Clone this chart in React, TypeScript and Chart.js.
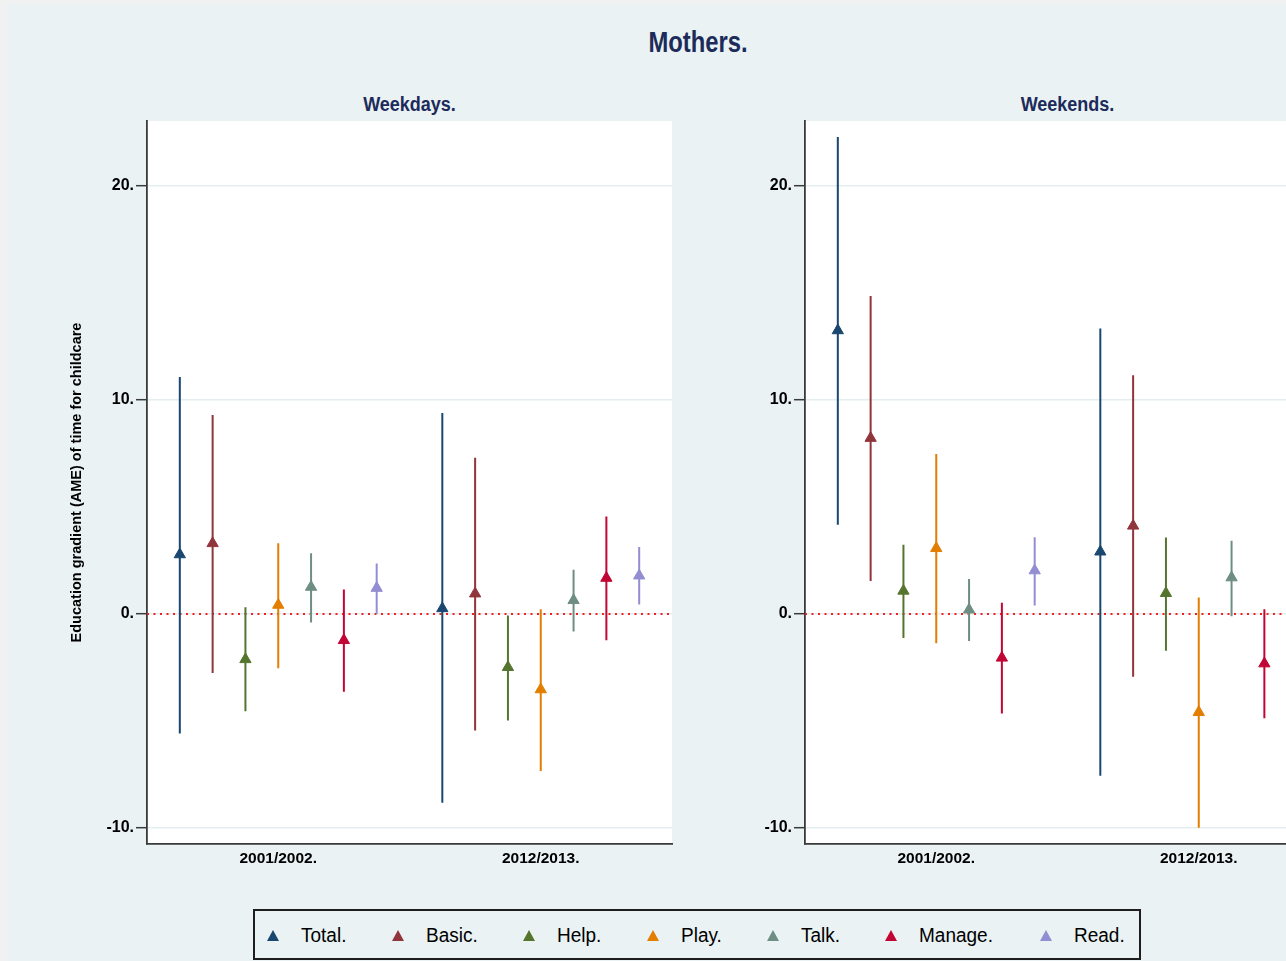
import React, { useEffect, useRef } from "react";
import { Chart, registerables } from "chart.js";

Chart.register(...registerables);

// ---------- data ----------
const seriesNames = ["Total", "Basic", "Help", "Play", "Talk", "Manage", "Read"];
const seriesColors = ["#1a476f", "#90353b", "#55752f", "#e37e00", "#6e8e84", "#c10534", "#938dd2"];
const waveLabels = ["2001/2002", "2012/2013"];
const yTickValues = [-10, 0, 10, 20];

// Weekdays: per series [2001/2002, 2012/2013]
const weekdayEst = [[2.78, 0.26], [3.3, 0.95], [-2.12, -2.49], [0.42, -3.53], [1.26, 0.64], [-1.23, 1.68], [1.21, 1.79]];
const weekdayLo = [[-5.58, -8.82], [-2.76, -5.45], [-4.54, -4.98], [-2.54, -7.34], [-0.4, -0.82], [-3.64, -1.23], [0.0, 0.44]];
const weekdayHi = [[11.07, 9.39], [9.3, 7.3], [0.31, -0.07], [3.31, 0.22], [2.84, 2.07], [1.15, 4.56], [2.36, 3.13]];

// Weekends: per series [2001/2002, 2012/2013]
const weekendEst = [[13.25, 2.91], [8.22, 4.12], [1.08, 0.97], [3.07, -4.59], [0.2, 1.7], [-2.05, -2.32], [2.03, 2.1]];
const weekendLo = [[4.17, -7.56], [1.54, -2.93], [-1.12, -1.72], [-1.37, -9.99], [-1.26, -0.11], [-4.65, -4.87], [0.4, 0.6]];
const weekendHi = [[22.29, 13.34], [14.86, 11.16], [3.24, 3.57], [7.48, 0.77], [1.63, 3.42], [0.53, 0.22], [3.59, 3.6]];

// ---------- helpers ----------
const FONT = "'Liberation Sans', Arial, sans-serif";
const TITLE_COLOR = "#1c2b5a";
const BG = "#eaf2f3";

const pos = (w: number, i: number) => w * 8 + i + 1;

function buildDatasets(est: number[][], lo: number[][], hi: number[][]) {
  const ds: any[] = [];
  seriesNames.forEach((name, i) => {
    ds.push({
      type: "scatter",
      label: name,
      data: waveLabels.map((_, w) => ({ x: pos(w, i), y: est[i][w] })),
      pointStyle: "triangle",
      pointRadius: 6.5,
      pointHoverRadius: 6.5,
      backgroundColor: seriesColors[i],
      borderColor: seriesColors[i],
      borderWidth: 1,
      showLine: false,
    });
  });
  seriesNames.forEach((name, i) => {
    const data: any[] = [];
    waveLabels.forEach((_, w) => {
      if (w > 0) data.push({ x: pos(w, i), y: null });
      data.push({ x: pos(w, i), y: lo[i][w] }, { x: pos(w, i), y: hi[i][w] });
    });
    ds.push({
      type: "line",
      label: name + " CI",
      data,
      showLine: true,
      spanGaps: false,
      pointRadius: 0,
      pointHoverRadius: 0,
      borderColor: seriesColors[i],
      borderWidth: 2,
      fill: false,
    });
  });
  ds.push({
    type: "line",
    label: "zero",
    data: [{ x: 0, y: 0 }, { x: 16, y: 0 }],
    borderColor: "#f02020",
    borderWidth: 2,
    borderDash: [2, 4.5],
    pointRadius: 0,
    pointHoverRadius: 0,
    fill: false,
  });
  return ds;
}

const whiteArea = {
  id: "whiteArea",
  beforeDraw(chart: any) {
    const { ctx, chartArea } = chart;
    ctx.save();
    ctx.fillStyle = "#ffffff";
    ctx.fillRect(chartArea.left, chartArea.top, chartArea.right - chartArea.left, chartArea.bottom - chartArea.top);
    ctx.restore();
  },
};

const CW = 683;
const CH = 880;

function Panel(props: {
  est: number[][];
  lo: number[][];
  hi: number[][];
  showYTitle: boolean;
  left: number;
  padLeft: number;
  yWidth: number;
  padRight: number;
}) {
  const ref = useRef<HTMLCanvasElement>(null);
  useEffect(() => {
    const chart = new Chart(ref.current as HTMLCanvasElement, {
      type: "scatter",
      data: { datasets: buildDatasets(props.est, props.lo, props.hi) },
      options: {
        animation: false,
        responsive: false,
        devicePixelRatio: 1,
        events: [],
        layout: { padding: { left: props.padLeft, right: props.padRight, top: 117, bottom: 10 } },
        plugins: { legend: { display: false }, tooltip: { enabled: false }, title: { display: false } },
        scales: {
          x: {
            type: "linear",
            min: 0,
            max: 16,
            afterBuildTicks: (s: any) => {
              s.ticks = waveLabels.map((_, w) => ({ value: pos(w, 3) }));
            },
            afterFit: (s: any) => {
              s.height = 30;
            },
            ticks: {
              autoSkip: false,
              maxRotation: 0,
              padding: -3,
              color: "#000",
              font: { family: FONT, size: 15.5, weight: "bold" },
              callback: (v: any) => {
                const w = Math.round((Number(v) - pos(0, 3)) / 8);
                return waveLabels[w] !== undefined ? waveLabels[w] + "." : "";
              },
            },
            grid: { display: false },
            border: { display: true, color: "#3a3a3a", width: 1.8 },
          },
          y: {
            type: "linear",
            min: -10.75,
            max: 23.04,
            afterBuildTicks: (s: any) => {
              s.ticks = yTickValues.map((v) => ({ value: v }));
            },
            afterFit: (s: any) => {
              s.width = props.yWidth;
            },
            ticks: {
              padding: 2,
              color: "#000",
              font: { family: FONT, size: 16, weight: "bold" },
              callback: (v: any) => String(v) + ".",
            },
            grid: {
              color: "#e4eef0",
              lineWidth: 1.4,
              tickColor: "#3a3a3a",
              tickLength: 11,
              tickWidth: 1.5,
            },
            border: { display: true, color: "#3a3a3a", width: 1.8 },
            title: {
              display: props.showYTitle,
              text: "Education gradient (AME) of time for childcare",
              color: "#000",
              font: { family: FONT, size: 14.5, weight: "bold" },
              padding: { top: 0, bottom: 0 },
            },
          },
        },
      } as any,
      plugins: [whiteArea],
    });
    return () => chart.destroy();
  }, []);
  return (
    <div style={{ position: "absolute", left: props.left, top: 0, width: CW, height: CH }}>
      <canvas ref={ref} width={CW} height={CH} style={{ display: "block", width: CW, height: CH }} />
    </div>
  );
}

function LegendBox() {
  return (
    <div
      style={{
        position: "absolute",
        left: 246,
        top: 905,
        width: 888,
        height: 51,
        boxSizing: "border-box",
        border: "2px solid #1e1e1e",
        background: BG,
        display: "flex",
        alignItems: "center",
        paddingLeft: 12,
        gap: 43,
        fontFamily: FONT,
        fontSize: 20,
        color: "#000",
      }}
    >
      {seriesNames.map((name, i) => (
        <div key={name} style={{ display: "flex", alignItems: "center" }}>
          <div
            style={{
              width: 0,
              height: 0,
              borderLeft: "6px solid transparent",
              borderRight: "6px solid transparent",
              borderBottom: "11px solid " + seriesColors[i],
              marginRight: 22,
              marginTop: 1,
            }}
          />
          <span style={{ lineHeight: "24px", display: "inline-block", transform: "scaleX(0.95)", transformOrigin: "left center" }}>
            {name}.
          </span>
        </div>
      ))}
    </div>
  );
}

export default function App() {
  return (
    <>
      <div style={{ position: "fixed", left: 0, top: 0, right: 0, bottom: 0, background: "#f1f1f1" }} />
      <div
        style={{
          position: "absolute",
          left: 7,
          top: 4,
          width: 1279,
          height: 957,
          background: BG,
          overflow: "hidden",
        }}
      >
        <div
          style={{
            position: "absolute",
            left: 591,
            width: 200,
            top: 21,
            textAlign: "center",
            fontFamily: FONT,
            fontWeight: "bold",
            fontSize: 29,
            lineHeight: "34px",
            color: TITLE_COLOR,
            transform: "scaleX(0.82)",
          }}
        >
          Mothers.
        </div>
        <div
          style={{
            position: "absolute",
            left: 140,
            width: 525,
            top: 88,
            textAlign: "center",
            fontFamily: FONT,
            fontWeight: "bold",
            fontSize: 20,
            lineHeight: "24px",
            color: TITLE_COLOR,
            transform: "scaleX(0.9)",
          }}
        >
          Weekdays.
        </div>
        <div
          style={{
            position: "absolute",
            left: 798,
            width: 525,
            top: 88,
            textAlign: "center",
            fontFamily: FONT,
            fontWeight: "bold",
            fontSize: 20,
            lineHeight: "24px",
            color: TITLE_COLOR,
            transform: "scaleX(0.9)",
          }}
        >
          Weekends.
        </div>
        <Panel est={weekdayEst} lo={weekdayLo} hi={weekdayHi} showYTitle={true} left={0} padLeft={61} yWidth={79} padRight={18} />
        <Panel est={weekendEst} lo={weekendLo} hi={weekendHi} showYTitle={false} left={683} padLeft={0} yWidth={115} padRight={43} />
        <LegendBox />
      </div>
    </>
  );
}
